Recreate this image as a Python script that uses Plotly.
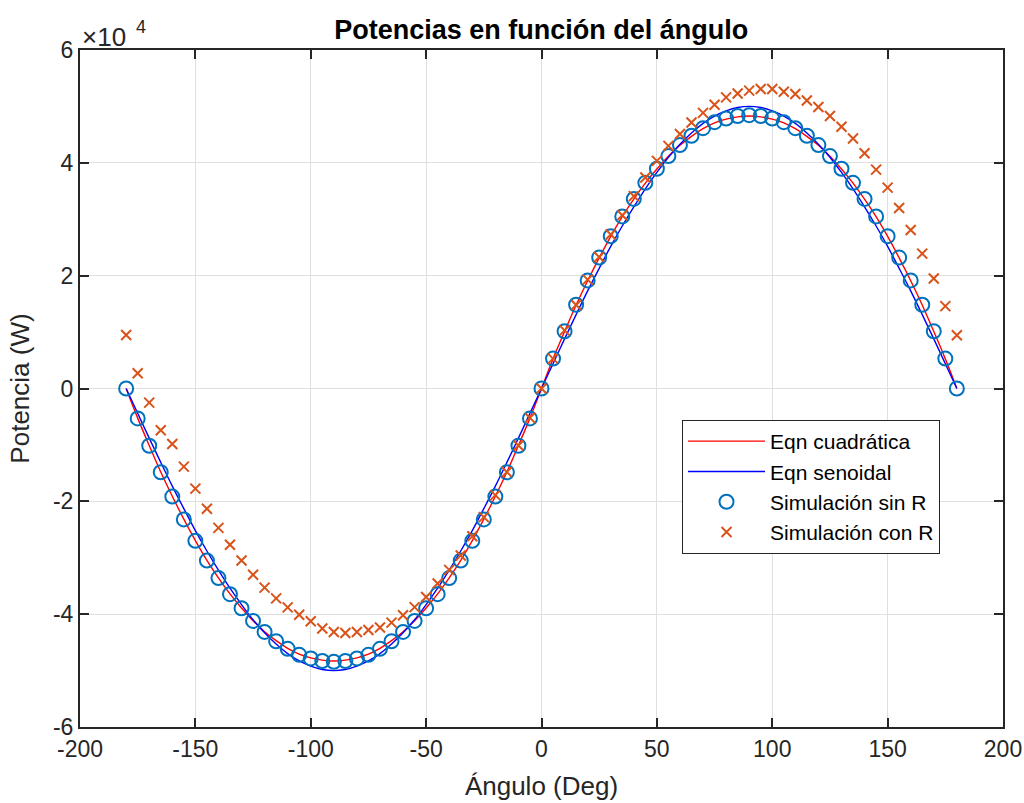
import plotly.graph_objects as go

# ---- data (angles in degrees, powers in W) ----
angles = list(range(-180, 185, 5))

sim_sin_R = [
    0, -5300, -10150, -14850, -19150, -23200, -27000, -30500, -33600, -36450,
    -38950, -41200, -43150, -44800, -46150, -47200, -47850, -48300, -48450,
    -48300, -47850, -47200, -46150, -44800, -43150, -41200, -38950, -36450,
    -33600, -30500, -27000, -23200, -19150, -14850, -10150, -5300,
    0,
    5300, 10150, 14850, 19150, 23200, 27000, 30500, 33600, 36450, 38950,
    41200, 43150, 44800, 46150, 47200, 47850, 48300, 48450, 48300, 47850,
    47200, 46150, 44800, 43150, 41200, 38950, 36450, 33600, 30500, 27000,
    23200, 19150, 14850, 10150, 5300, 0,
]

sim_con_R = [
    9470, 2700, -2500, -7400, -9850, -13850, -17750, -21300, -24700, -27700,
    -30500, -33000, -35300, -37200, -38800, -40100, -41250, -42550, -43150,
    -43350, -43150, -42800, -42350, -41500, -40200, -38750, -36950, -34550,
    -32150, -29600, -26200, -22800, -18900, -14800, -10100, -5200,
    0,
    5300, 10300, 14800, 19300, 23300, 27300, 30700, 34100, 37400, 40350,
    43000, 45100, 47150, 48850, 50300, 51600, 52300, 52800, 53100, 53100,
    52600, 52200, 51050, 49900, 48300, 46400, 44300, 41700, 38800, 35600,
    32000, 28100, 23900, 19500, 14600, 9450,
]

eqn_cuadratica = [
    0, -5250, -10100, -14800, -19100, -23150, -26950, -30450, -33550, -36400,
    -38900, -41150, -43100, -44700, -46050, -47100, -47750, -48150, -48300,
    -48150, -47750, -47100, -46050, -44700, -43100, -41150, -38900, -36400,
    -33550, -30450, -26950, -23150, -19100, -14800, -10100, -5250,
    0,
    5250, 10100, 14800, 19100, 23150, 26950, 30450, 33550, 36400, 38900,
    41150, 43100, 44700, 46050, 47100, 47750, 48150, 48300, 48150, 47750,
    47100, 46050, 44700, 43100, 41150, 38900, 36400, 33550, 30450, 26950,
    23150, 19100, 14800, 10100, 5250, 0,
]

eqn_senoidal = [
    0, -4400, -8800, -13100, -17300, -21300, -25200, -28800, -32200, -35400,
    -38300, -41000, -43300, -45300, -47000, -48300, -49200, -49800, -50000,
    -49800, -49200, -48300, -47000, -45300, -43300, -41000, -38300, -35400,
    -32200, -28800, -25200, -21300, -17300, -13100, -8800, -4400,
    0,
    4400, 8800, 13100, 17300, 21300, 25200, 28800, 32200, 35400, 38300,
    41000, 43300, 45300, 47000, 48300, 49200, 49800, 50000, 49800, 49200,
    48300, 47000, 45300, 43300, 41000, 38300, 35400, 32200, 28800, 25200,
    21300, 17300, 13100, 8800, 4400, 0,
]

x_ticks = [-200, -150, -100, -50, 0, 50, 100, 150, 200]
x_ticktext = ["-200", "-150", "-100", "-50", "0", "50", "100", "150", "200"]
y_ticks = [-60000, -40000, -20000, 0, 20000, 40000, 60000]
y_ticktext = ["-6", "-4", "-2", "0", "2", "4", "6"]

FONT = "Liberation Sans, Arial, Helvetica, sans-serif"
AX = "#262626"

fig = go.Figure()
fig.add_trace(go.Scatter(x=angles, y=eqn_cuadratica, mode="lines", name="Eqn cuadrática",
                         line=dict(color="#FF0000", width=1.4, shape="spline")))
fig.add_trace(go.Scatter(x=angles, y=eqn_senoidal, mode="lines", name="Eqn senoidal",
                         line=dict(color="#0000FF", width=1.4, shape="spline")))
fig.add_trace(go.Scatter(x=angles, y=sim_sin_R, mode="markers", name="Simulación sin R",
                         marker=dict(symbol="circle-open", size=14, color="#0072BD",
                                     line=dict(width=2, color="#0072BD"))))
fig.add_trace(go.Scatter(x=angles, y=sim_con_R, mode="markers", name="Simulación con R",
                         marker=dict(symbol="x-thin-open", size=10, color="#D95319",
                                     line=dict(width=2, color="#D95319"))))

axis_common = dict(
    showline=True, linecolor=AX, linewidth=2, mirror="allticks",
    ticks="inside", ticklen=9, tickwidth=2, tickcolor=AX,
    showgrid=True, gridcolor="#DFDFDF", gridwidth=1,
    zeroline=False, automargin=False,
    tickfont=dict(family=FONT, size=23, color=AX),
)

fig.update_layout(
    width=1024, height=803,
    margin=dict(l=80, r=21, t=50, b=76),
    paper_bgcolor="white", plot_bgcolor="white",
    font=dict(family=FONT, color=AX),
    title=dict(text="<b>Potencias en función del ángulo</b>", x=0.5286, xanchor="center",
               y=1 - 30 / 803, yanchor="middle", yref="container",
               font=dict(family=FONT, size=27, color="black")),
    xaxis=dict(range=[-200, 200], tickvals=x_ticks, ticktext=x_ticktext,
               title=dict(text="Ángulo (Deg)", font=dict(family=FONT, size=26, color=AX), standoff=16),
               **axis_common),
    yaxis=dict(range=[-60000, 60000], tickvals=y_ticks, ticktext=y_ticktext,
               title=dict(text="Potencia (W)", font=dict(family=FONT, size=26, color=AX), standoff=16),
               **axis_common),
    legend=dict(x=(682 - 80) / 923, y=(727 - 420) / 677, xanchor="left", yanchor="top",
                bgcolor="white", bordercolor=AX, borderwidth=1,
                font=dict(family=FONT, size=21, color="black"), itemwidth=77),
    showlegend=True,
    annotations=[
        dict(text="×10", xref="paper", yref="paper", x=0, y=1, yshift=13,
             xanchor="left", yanchor="middle", showarrow=False,
             font=dict(family=FONT, size=26, color=AX)),
        dict(text="4", xref="paper", yref="paper", x=(134 - 80) / 923, y=1, yshift=23,
             xanchor="left", yanchor="middle", showarrow=False,
             font=dict(family=FONT, size=18, color=AX)),
    ],
)

fig.write_html("out.html")
